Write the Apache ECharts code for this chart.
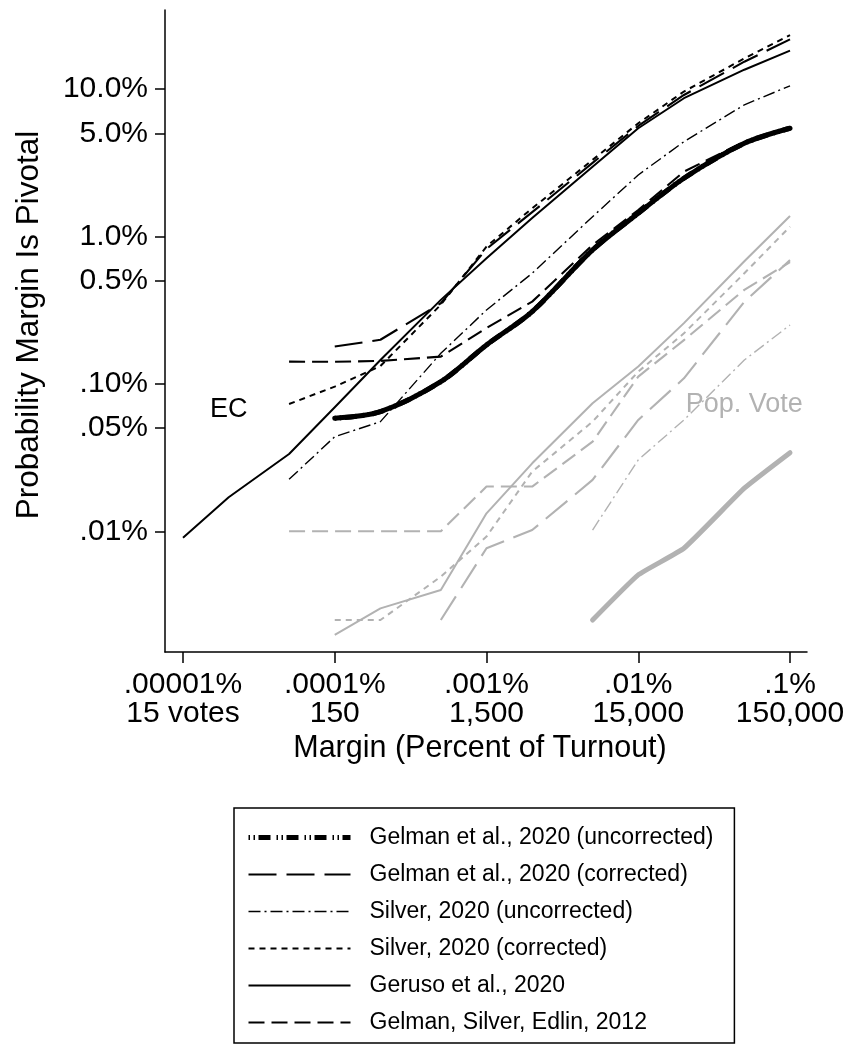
<!DOCTYPE html>
<html>
<head>
<meta charset="utf-8">
<script src="https://cdn.jsdelivr.net/npm/echarts@6/dist/echarts.min.js"></script>
<style>
html,body{margin:0;padding:0;background:#fff;}
#c{width:848px;height:1055px;}
</style>
</head>
<body>
<div id="c"></div>
<script>
// ---- data (values in percent) ----
const margins = [0.00001, 0.00002, 0.00005, 0.0001, 0.0002, 0.0005, 0.001, 0.002, 0.005, 0.01, 0.02, 0.05, 0.1];

const xTickValues = [0.00001, 0.0001, 0.001, 0.01, 0.1];
const xTickLabels = ['.00001%\n15 votes', '.0001%\n150', '.001%\n1,500', '.01%\n15,000', '.1%\n150,000'];
const yTickValues = [0.01, 0.05, 0.1, 0.5, 1, 5, 10];
const yTickLabels = ['.01%', '.05%', '.10%', '0.5%', '1.0%', '5.0%', '10.0%'];

const seriesNames = [
  'Gelman et al., 2020 (uncorrected)',
  'Gelman et al., 2020 (corrected)',
  'Silver, 2020 (uncorrected)',
  'Silver, 2020 (corrected)',
  'Geruso et al., 2020',
  'Gelman, Silver, Edlin, 2012'
];

// Electoral College
const gelmanUncorrEC = [null, null, null, 0.0584, 0.0647, 0.1034, 0.1835, 0.309, 0.809, 1.435, 2.48, 4.28, 5.41];
const gelmanCorrEC   = [null, null, null, 0.179, 0.199, 0.352, 0.822, 1.46, 3.15, 5.61, 9.1, 15.3, 21.7];
const silverUncorrEC = [null, null, 0.0225, 0.0438, 0.0554, 0.161, 0.317, 0.562, 1.36, 2.61, 4.39, 7.8, 10.5];
const silverCorrEC   = [null, null, 0.0730, 0.0957, 0.132, 0.344, 0.853, 1.55, 3.30, 5.85, 9.6, 16.1, 23.2];
const gerusoEC       = [0.00905, 0.0170, 0.0334, 0.0693, 0.145, 0.371, 0.711, 1.33, 2.97, 5.41, 8.65, 13.5, 18.2];
const gse2012EC      = [null, null, 0.1414, 0.141, 0.143, 0.153, 0.239, 0.361, 0.875, 1.51, 2.75, 4.39, 5.47];

// Popular vote
const gelmanUncorrPV = [null, null, null, null, null, null, null, null, 0.0025, 0.00506, 0.00767, 0.01959, 0.0341];
const gelmanCorrPV   = [null, null, null, null, null, 0.0025, 0.00767, 0.0102, 0.0223, 0.0569, 0.109, 0.36, 0.69];
const silverUncorrPV = [null, null, null, null, null, null, null, null, 0.0102, 0.0305, 0.0569, 0.145, 0.2507];
const silverCorrPV   = [null, null, null, 0.0025, 0.0025, 0.00492, 0.0092, 0.0254, 0.0554, 0.121, 0.220, 0.562, 1.164];
const gerusoPV       = [null, null, null, 0.00198, 0.00300, 0.0040, 0.01324, 0.0289, 0.0738, 0.131, 0.258, 0.678, 1.376];
const gse2012PV      = [null, null, 0.0100, 0.0100, 0.0100, 0.0100, 0.0201, 0.0201, 0.0405, 0.112, 0.198, 0.434, 0.67];

const ecLabelAt = [0.00002, 0.0665];
const pvLabelAt = [0.05, 0.072];

// ---- layout / style ----
const FONT = 'Liberation Sans, Arial, Helvetica, sans-serif';
const BLACK = '#000000';
const GREY = '#b2b2b2';
const X_MIN = 7.61e-6, X_MAX = 0.1294;
const Y_MIN = 0.001518, Y_MAX = 34.3;

const styleDefs = [
  { width: 5,   type: 'solid', smooth: 0.3, legendType: [1.5, 3.5, 1.5, 3.5, 12, 6] },
  { width: 2.1, type: [28, 10] },
  { width: 1.4, type: [12, 4, 2, 4] },
  { width: 2.0, type: [6, 5] },
  { width: 2.0, type: 'solid' },
  { width: 2.1, type: [16, 7] }
];

function toData(vals) {
  const out = [];
  margins.forEach((m, i) => { if (vals[i] != null) out.push([m, vals[i]]); });
  return out;
}

function mk(name, vals, color, idx, extra) {
  const s = styleDefs[idx];
  return Object.assign({
    type: 'line',
    name: name,
    data: toData(vals),
    showSymbol: false,
    symbol: 'none',
    smooth: s.smooth || false,
    silent: true,
    lineStyle: { color: color, width: s.width, type: s.type, cap: s.width > 3 ? 'round' : 'butt', join: 'round' },
    itemStyle: { color: color },
    z: 2
  }, extra || {});
}

const ecSets = [gelmanUncorrEC, gelmanCorrEC, silverUncorrEC, silverCorrEC, gerusoEC, gse2012EC];
const pvSets = [gelmanUncorrPV, gelmanCorrPV, silverUncorrPV, silverCorrPV, gerusoPV, gse2012PV];

function labelMark(text, at, color) {
  return {
    symbol: 'circle', symbolSize: 1, silent: true, animation: false,
    itemStyle: { color: 'rgba(0,0,0,0)' },
    label: { show: true, position: 'inside', formatter: text, fontSize: 27, color: color, fontFamily: FONT },
    data: [{ coord: at }]
  };
}

const series = [];
// legend-pattern carrier for the thick series (hidden beneath the solid thick line)
series.push(mk(seriesNames[0], gelmanUncorrEC, BLACK, 0, {
  lineStyle: { color: BLACK, width: 5, type: styleDefs[0].legendType, cap: 'butt', join: 'round' }
}));
ecSets.forEach((vals, i) => {
  const extra = (i === 4) ? { markPoint: labelMark('EC', ecLabelAt, BLACK) } : {};
  series.push(mk(seriesNames[i], vals, BLACK, i, extra));
});
pvSets.forEach((vals, i) => {
  let extra = (i === 4) ? { markPoint: labelMark('Pop. Vote', pvLabelAt, GREY) } : {};
  if (i === 0) extra = { smooth: 0.12 };
  series.push(mk(seriesNames[i] + ' [Pop. Vote]', vals, GREY, i, extra));
});

function lookup(v, vals, labels) {
  let best = 0, bd = Infinity;
  vals.forEach((t, i) => { const d = Math.abs(Math.log10(v) - Math.log10(t)); if (d < bd) { bd = d; best = i; } });
  return bd < 1e-4 ? labels[best] : '';
}

const chart = echarts.init(document.getElementById('c'), null, { renderer: 'canvas' });
chart.setOption({
  animation: false,
  backgroundColor: '#ffffff',
  grid: { left: 165, top: 10, width: 642, height: 642, containLabel: false, outerBoundsMode: 'none' },
  xAxis: {
    type: 'log', logBase: 10, min: X_MIN, max: X_MAX,
    name: 'Margin (Percent of Turnout)', nameLocation: 'middle', nameGap: 81,
    nameTextStyle: { fontSize: 30.5, color: BLACK, fontFamily: FONT, padding: [0, 12, 0, 0] },
    axisLine: { show: true, onZero: false, lineStyle: { color: BLACK, width: 1.5 } },
    axisTick: { show: true, inside: false, length: 11, lineStyle: { color: BLACK, width: 1.5 }, customValues: xTickValues },
    axisLabel: { show: true, customValues: xTickValues, margin: 18, fontSize: 30, lineHeight: 29, color: BLACK, fontFamily: FONT,
      formatter: v => lookup(v, xTickValues, xTickLabels) },
    splitLine: { show: false }, minorTick: { show: false }, minorSplitLine: { show: false }
  },
  yAxis: {
    type: 'log', logBase: 10, min: Y_MIN, max: Y_MAX,
    name: 'Probability Margin Is Pivotal', nameLocation: 'middle', nameGap: 120, nameRotate: 90,
    nameTextStyle: { fontSize: 31.5, color: BLACK, fontFamily: FONT, padding: [0, 0, 0, 12] },
    axisLine: { show: true, onZero: false, lineStyle: { color: BLACK, width: 1.5 } },
    axisTick: { show: true, inside: false, length: 10, lineStyle: { color: BLACK, width: 1.5 }, customValues: yTickValues },
    axisLabel: { show: true, customValues: yTickValues, margin: 17, fontSize: 30, color: BLACK, fontFamily: FONT,
      formatter: v => lookup(v, yTickValues, yTickLabels) },
    splitLine: { show: false }, minorTick: { show: false }, minorSplitLine: { show: false }
  },
  legend: {
    show: true, orient: 'vertical', left: 234, top: 808,
    data: seriesNames,
    selectedMode: false,
    itemWidth: 102, itemHeight: 14, itemGap: 14,
    padding: [18, 21, 9, 12],
    borderColor: BLACK, borderWidth: 1.5, backgroundColor: '#ffffff',
    textStyle: { fontSize: 23, color: BLACK, fontFamily: FONT, padding: [0, 0, 0, 14] },
    lineStyle: { width: 'inherit' },
    itemStyle: { opacity: 0 }
  },
  series: series
});
</script>
</body>
</html>
